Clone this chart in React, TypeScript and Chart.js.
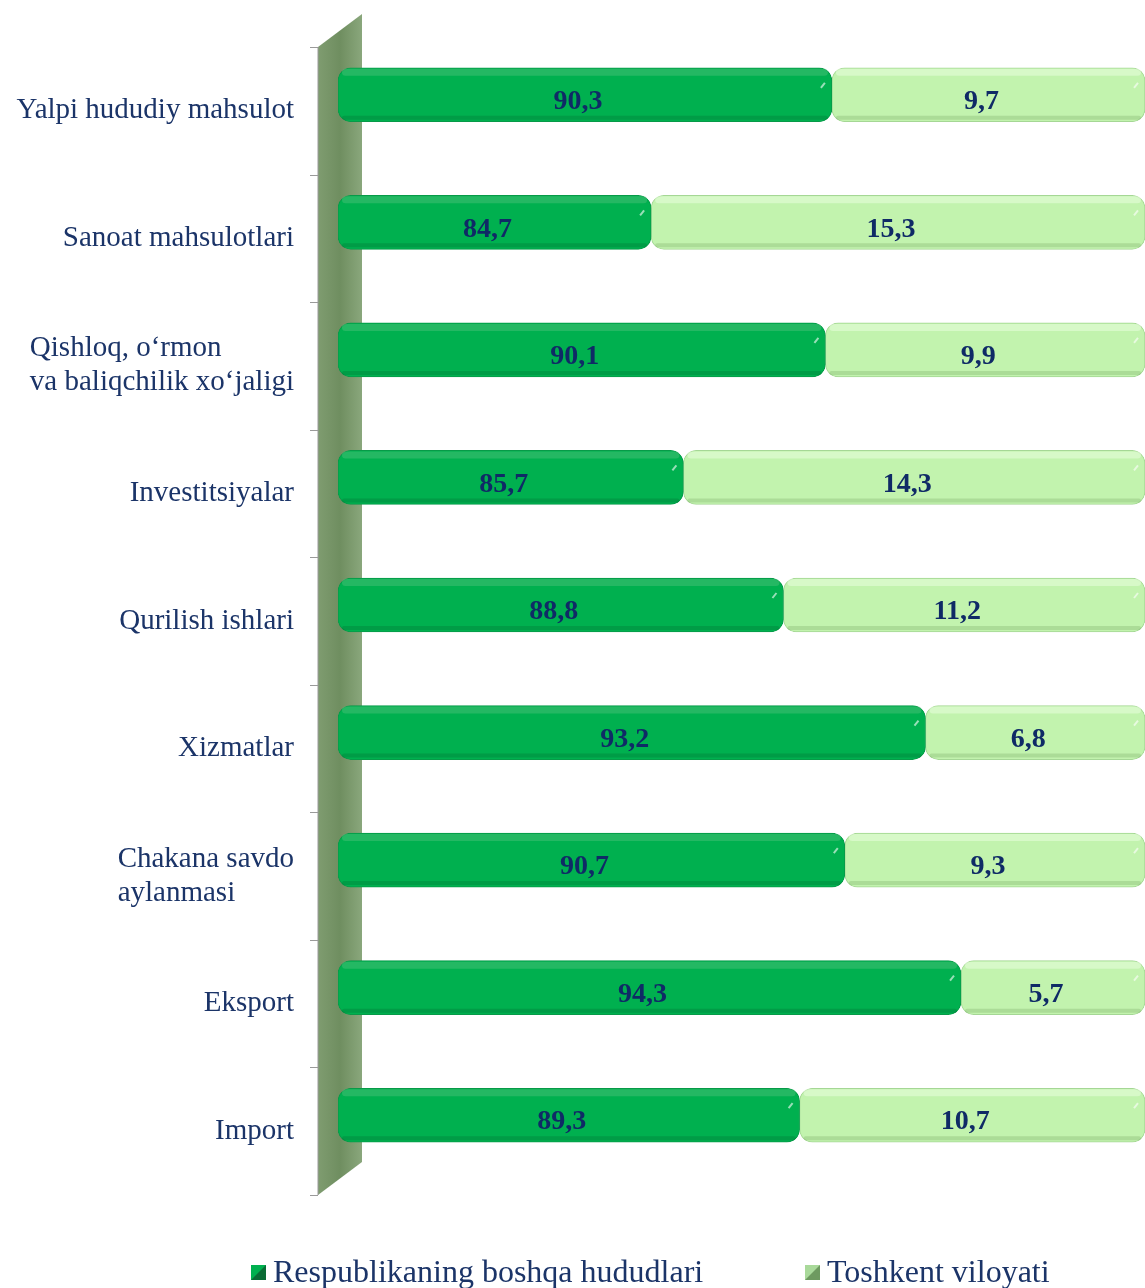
import React, { useEffect, useRef } from "react";
import { Chart, registerables } from "chart.js";
Chart.register(...registerables);

const categories: string[][] = [
  ["Yalpi hududiy mahsulot"],
  ["Sanoat mahsulotlari"],
  ["Qishloq, o‘rmon", "va baliqchilik xo‘jaligi"],
  ["Investitsiyalar"],
  ["Qurilish ishlari"],
  ["Xizmatlar"],
  ["Chakana savdo", "aylanmasi"],
  ["Eksport"],
  ["Import"],
];
const otherRegions = [90.3, 84.7, 90.1, 85.7, 88.8, 93.2, 90.7, 94.3, 89.3];
const tashkentRegion = [9.7, 15.3, 9.9, 14.3, 11.2, 6.8, 9.3, 5.7, 10.7];
const seriesNames = ["Respublikaning boshqa hududlari", "Toshkent viloyati"];
const axisMin = 75;
const axisMax = 100;

const DARK = "#00B04F";
const LIGHT = "#C2F3AE";
const TEXT = "#1B3468";
const VALUE_TEXT = "#0F2A66";
const SERIF = "'Liberation Serif', 'Times New Roman', serif";

const fmt = (v: number) => v.toFixed(1).replace(".", ",");

const decorPlugin = {
  id: "decor",
  beforeDatasetsDraw(chart: any) {
    const { ctx, chartArea } = chart;
    const top = chartArea.top;
    const bottom = chartArea.bottom;
    const fx = 318, bx = 362, dy = 16, by = 17;
    ctx.save();
    const g = ctx.createLinearGradient(fx, 0, bx, 0);
    g.addColorStop(0, "#7F9C70");
    g.addColorStop(0.5, "#6F8E60");
    g.addColorStop(1, "#8AA77C");
    ctx.beginPath();
    ctx.moveTo(fx, top + dy);
    ctx.lineTo(bx, top - by);
    ctx.lineTo(bx, bottom - by);
    ctx.lineTo(fx, bottom + dy);
    ctx.closePath();
    ctx.fillStyle = g;
    ctx.fill();
    ctx.strokeStyle = "#9A9A9A";
    ctx.lineWidth = 1;
    ctx.beginPath();
    ctx.moveTo(fx, top + dy);
    ctx.lineTo(fx, bottom + dy);
    ctx.stroke();
    const n = categories.length;
    const band = (bottom - top) / n;
    for (let i = 0; i <= n; i++) {
      const y = Math.round(top + dy + i * band) + 0.5;
      ctx.beginPath();
      ctx.moveTo(fx - 8, y);
      ctx.lineTo(fx, y);
      ctx.stroke();
    }
    ctx.fillStyle = TEXT;
    ctx.font = `29px ${SERIF}`;
    ctx.textBaseline = "middle";
    ctx.textAlign = "left";
    const rightX = 294;
    const lh = 34;
    categories.forEach((lines, i) => {
      const cy = top + dy + (i + 0.5) * band;
      const w = Math.max(...lines.map((l) => ctx.measureText(l).width));
      const x0 = rightX - w;
      lines.forEach((l, k) => {
        ctx.fillText(l, x0, cy + (k - (lines.length - 1) / 2) * lh);
      });
    });
    ctx.restore();
  },
  afterDatasetsDraw(chart: any) {
    const { ctx } = chart;
    ctx.save();
    [0, 1].forEach((di) => {
      const meta = chart.getDatasetMeta(di);
      meta.data.forEach((el: any, i: number) => {
        const left = Math.min(el.x, el.base);
        const right = Math.max(el.x, el.base);
        const h = el.height;
        const t = el.y - h / 2;
        ctx.save();
        ctx.beginPath();
        (ctx as any).roundRect(left + 4, t + 1, right - left - 8, 7, 5);
        ctx.fillStyle = di === 0 ? "rgba(80,195,125,0.45)" : "rgba(235,255,225,0.5)";
        ctx.fill();
        ctx.beginPath();
        (ctx as any).roundRect(left + 4, t + h - 6, right - left - 8, 4, 3);
        ctx.fillStyle = di === 0 ? "rgba(0,110,50,0.3)" : "rgba(120,170,100,0.3)";
        ctx.fill();
        ctx.beginPath();
        ctx.moveTo(right - 11, t + 20);
        ctx.lineTo(right - 7, t + 15);
        ctx.strokeStyle = "rgba(255,255,255,0.6)";
        ctx.lineWidth = 2;
        ctx.stroke();
        ctx.restore();
        const v = di === 0 ? otherRegions[i] : tashkentRegion[i];
        ctx.fillStyle = VALUE_TEXT;
        ctx.font = `bold 28px ${SERIF}`;
        ctx.textAlign = "center";
        ctx.textBaseline = "middle";
        ctx.fillText(fmt(v), (left + right) / 2 - 7, el.y + 7);
      });
    });
    ctx.restore();
  },
  afterDraw(chart: any) {
    const { ctx } = chart;
    ctx.save();
    ctx.font = `32px ${SERIF}`;
    ctx.textBaseline = "middle";
    ctx.textAlign = "left";
    const items = [
      { x: 251, color: DARK, edge: "#0A6B35" },
      { x: 805, color: "#A9D99A", edge: "#6E9A60" },
    ];
    items.forEach((it, k) => {
      ctx.fillStyle = it.color;
      ctx.fillRect(it.x, 1265, 15, 15);
      ctx.fillStyle = it.edge;
      ctx.beginPath();
      ctx.moveTo(it.x, 1280);
      ctx.lineTo(it.x + 15, 1265);
      ctx.lineTo(it.x + 15, 1280);
      ctx.closePath();
      ctx.fill();
      ctx.fillStyle = TEXT;
      ctx.fillText(seriesNames[k], it.x + 22, 1274);
    });
    ctx.restore();
  },
};

export default function App() {
  const ref = useRef<HTMLCanvasElement>(null);
  useEffect(() => {
    if (!ref.current) return;
    const labels = categories.map((c) => c.join(" "));
    const chart = new Chart(ref.current, {
      type: "bar",
      data: {
        labels,
        datasets: [
          {
            label: seriesNames[0],
            data: otherRegions.map((v) => [axisMin, v]) as any,
            backgroundColor: DARK,
            borderColor: "#079A48",
            borderWidth: 1,
            borderRadius: 13,
            borderSkipped: false,
            barThickness: 54,
          },
          {
            label: seriesNames[1],
            data: tashkentRegion.map((v, i) => [otherRegions[i], otherRegions[i] + v]) as any,
            backgroundColor: LIGHT,
            borderColor: "#A5D795",
            borderWidth: 1,
            borderRadius: 13,
            borderSkipped: false,
            barThickness: 54,
          },
        ],
      },
      options: {
        indexAxis: "y",
        responsive: false,
        animation: false,
        maintainAspectRatio: false,
        datasets: { bar: { grouped: false } },
        layout: { padding: { left: 338, right: 0, top: 31, bottom: 109 } },
        plugins: { legend: { display: false }, tooltip: { enabled: false } },
        scales: {
          x: { display: false, min: axisMin, max: axisMax },
          y: { display: false, offset: true },
        },
      },
      plugins: [decorPlugin],
    });
    return () => chart.destroy();
  }, []);
  return (
    <div style={{ position: "absolute", left: 0, top: 0, width: 1145, height: 1288, background: "#fff" }}>
      <canvas ref={ref} width={1145} height={1288} style={{ width: 1145, height: 1288 }} />
    </div>
  );
}
